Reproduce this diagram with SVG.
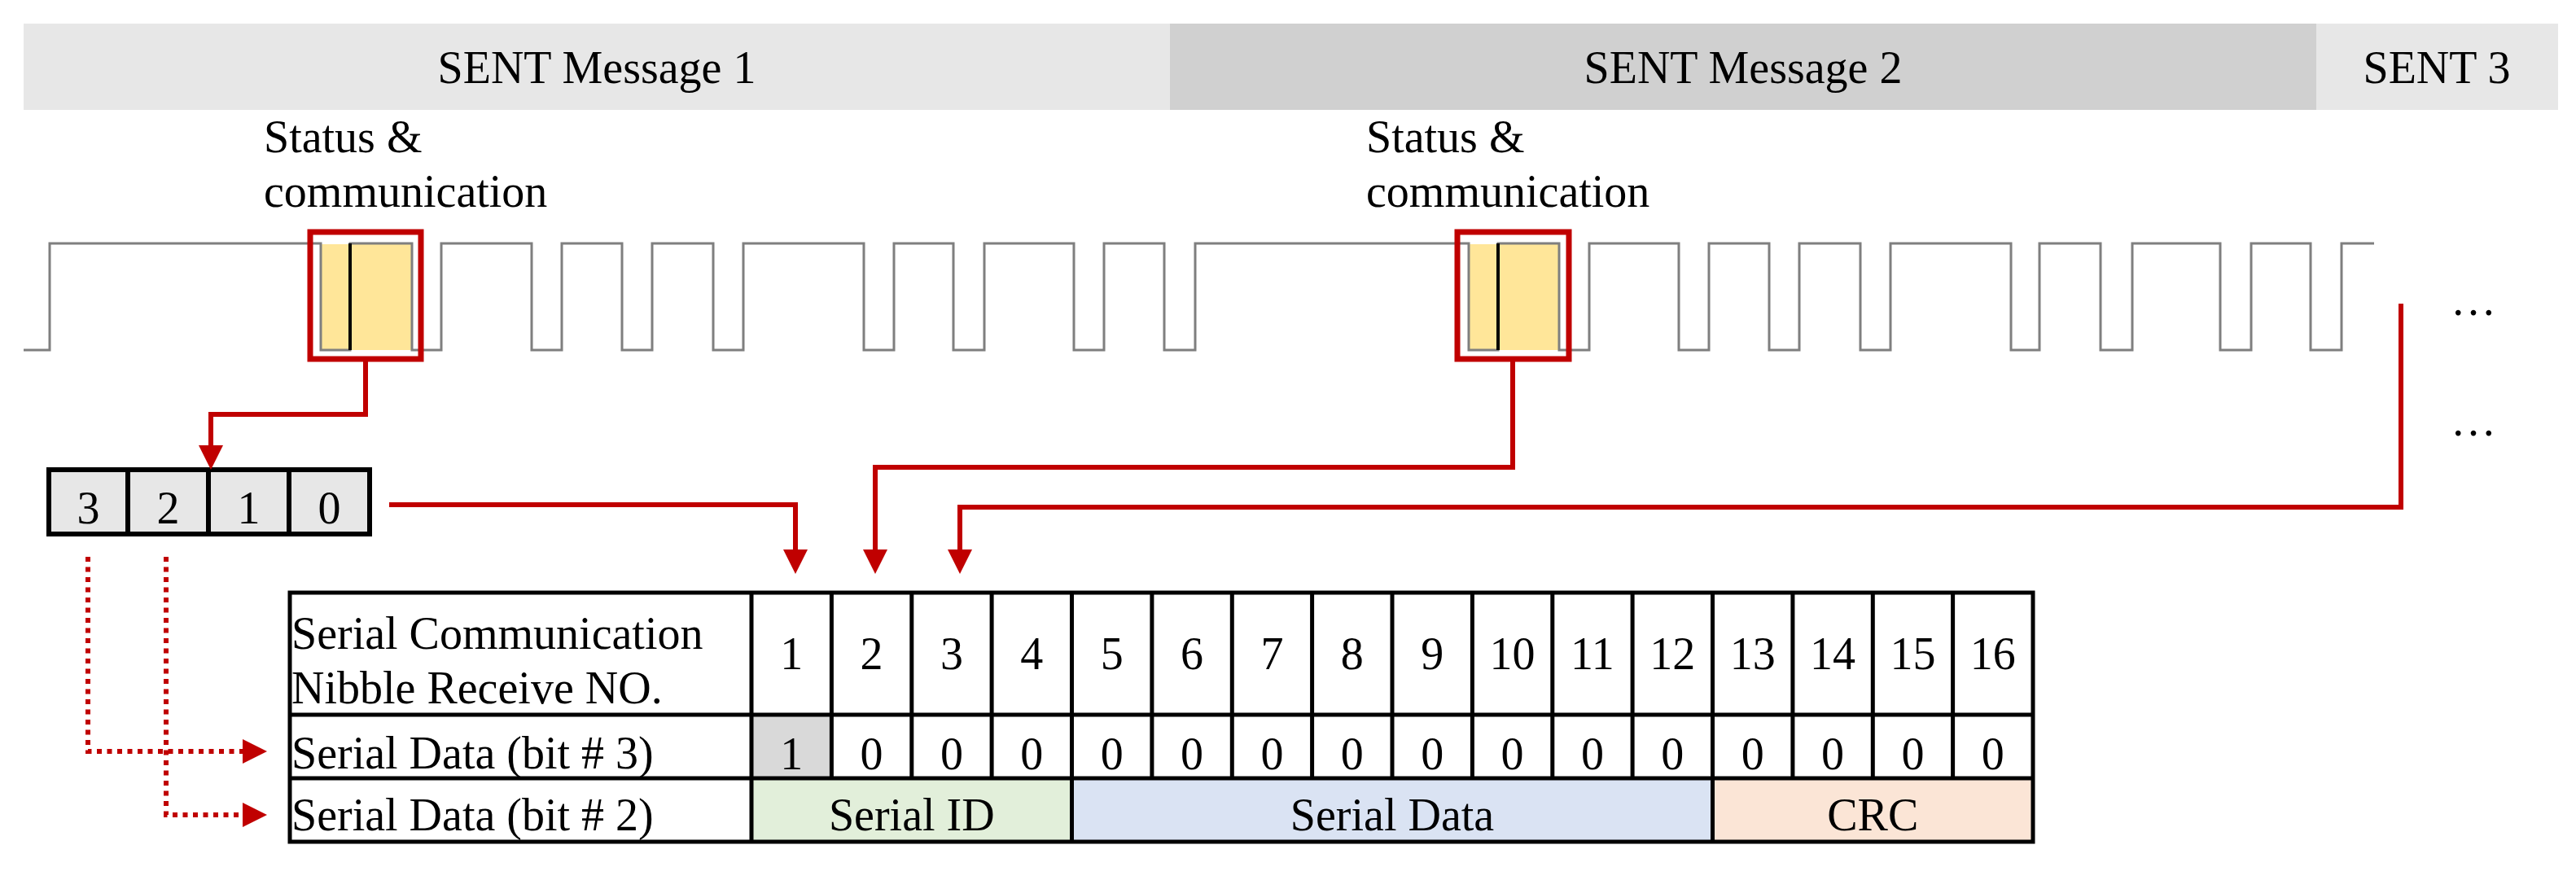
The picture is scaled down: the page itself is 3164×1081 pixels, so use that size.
<svg xmlns="http://www.w3.org/2000/svg" width="3164" height="1081" viewBox="0 0 3164 1081">
<defs>
<style>
.t{font-family:"Liberation Serif","Times New Roman",serif;font-size:56px;fill:#000}
.c{text-anchor:middle}
.wave{fill:none;stroke:#7f7f7f;stroke-width:3}
.rise{stroke:#000;stroke-width:4}
.hl{fill:#FFE699}
.rbox{fill:none;stroke:#C00000;stroke-width:7}
.conn{fill:none;stroke:#C00000;stroke-width:6}
.dot{fill:none;stroke:#C00000;stroke-width:6;stroke-dasharray:6 6.5}
.grid{stroke:#000;stroke-width:5;fill:none}
</style>
<marker id="ah" viewBox="0 0 10 10" markerWidth="5" markerHeight="5" refX="5" refY="5" orient="auto" markerUnits="strokeWidth">
<path d="M0,0 L10,5 L0,10 z" fill="#C00000"/>
</marker>
</defs>
<rect width="3164" height="1081" fill="#fff"/>

<g id="header">
<rect x="29" y="29" width="1408" height="106" fill="#E7E7E7"/>
<rect x="1437" y="29" width="1408" height="106" fill="#D0D0D0"/>
<rect x="2845" y="29" width="297" height="106" fill="#E7E7E7"/>
<text class="t c" x="733" y="102">SENT Message 1</text>
<text class="t c" x="2141" y="102">SENT Message 2</text>
<text class="t c" x="2993" y="102">SENT 3</text>
</g>

<g id="labels">
<text class="t" x="324" y="187">Status &amp;</text>
<text class="t" x="324" y="254">communication</text>
<text class="t" x="1678" y="187">Status &amp;</text>
<text class="t" x="1678" y="254">communication</text>
<text class="t" x="3010" y="387">…</text>
<text class="t" x="3010" y="535">…</text>
</g>

<g id="waveform">
<rect class="hl" x="394" y="300" width="112" height="130"/>
<rect class="hl" x="1804" y="300" width="111" height="130"/>
<path class="wave" d="M29,430 H61 V299 H394 V430 H430 V299 H506 V430 H542 V299 H653 V430 H690 V299 H764 V430 H801 V299 H876 V430 H913 V299 H1061 V430 H1098 V299 H1171 V430 H1209 V299 H1319 V430 H1356 V299 H1430 V430 H1468 V299 H1804 V430 H1840 V299 H1915 V430 H1952 V299 H2062 V430 H2099 V299 H2173 V430 H2210 V299 H2285 V430 H2322 V299 H2470 V430 H2505 V299 H2580 V430 H2619 V299 H2727 V430 H2765 V299 H2838 V430 H2876 V299 H2916"/>
<line class="rise" x1="430" y1="299" x2="430" y2="430"/>
<line class="rise" x1="1840" y1="299" x2="1840" y2="430"/>
</g>

<g id="status-box-1"><rect class="rbox" x="381" y="285" width="136" height="156"/></g>
<g id="status-box-2"><rect class="rbox" x="1790" y="285" width="137" height="156"/></g>

<g id="bit-box">
<rect x="60" y="577" width="394" height="79" fill="#E7E7E7" stroke="#000" stroke-width="6"/>
<line x1="157" y1="577" x2="157" y2="656" stroke="#000" stroke-width="6"/>
<line x1="256" y1="577" x2="256" y2="656" stroke="#000" stroke-width="6"/>
<line x1="355" y1="577" x2="355" y2="656" stroke="#000" stroke-width="6"/>
<text class="t c" x="108.5" y="643">3</text>
<text class="t c" x="206.5" y="643">2</text>
<text class="t c" x="305.5" y="643">1</text>
<text class="t c" x="404.5" y="643">0</text>
</g>

<g id="table">
<rect x="923" y="878" width="98.4" height="78" fill="#D9D9D9"/>
<rect x="923" y="956" width="393.5" height="78" fill="#E2EFDA"/>
<rect x="1316.5" y="956" width="787" height="78" fill="#DAE3F3"/>
<rect x="2103.5" y="956" width="393.5" height="78" fill="#FBE5D6"/>
<rect class="grid" x="356" y="728" width="2141" height="306"/>
<path class="grid" d="M356,878 H2497 M356,956 H2497 M923,728 V1034 M1021.4,728 V956 M1119.8,728 V956 M1218.1,728 V956 M1316.5,728 V1034 M1414.9,728 V956 M1513.3,728 V956 M1611.6,728 V956 M1710,728 V956 M1808.4,728 V956 M1906.8,728 V956 M2005.1,728 V956 M2103.5,728 V1034 M2201.9,728 V956 M2300.3,728 V956 M2398.6,728 V956"/>
<text class="t" x="358" y="797">Serial Communication</text>
<text class="t" x="358" y="864">Nibble Receive NO.</text>
<text class="t" x="358" y="944">Serial Data (bit # 3)</text>
<text class="t" x="358" y="1020">Serial Data (bit # 2)</text>
<g class="t c">
<text x="972.2" y="822">1</text><text x="1070.6" y="822">2</text><text x="1168.9" y="822">3</text><text x="1267.3" y="822">4</text>
<text x="1365.7" y="822">5</text><text x="1464.1" y="822">6</text><text x="1562.4" y="822">7</text><text x="1660.8" y="822">8</text>
<text x="1759.2" y="822">9</text><text x="1857.6" y="822">10</text><text x="1955.9" y="822">11</text><text x="2054.3" y="822">12</text>
<text x="2152.7" y="822">13</text><text x="2251.1" y="822">14</text><text x="2349.4" y="822">15</text><text x="2447.8" y="822">16</text>
<text x="972.2" y="945">1</text><text x="1070.6" y="945">0</text><text x="1168.9" y="945">0</text><text x="1267.3" y="945">0</text>
<text x="1365.7" y="945">0</text><text x="1464.1" y="945">0</text><text x="1562.4" y="945">0</text><text x="1660.8" y="945">0</text>
<text x="1759.2" y="945">0</text><text x="1857.6" y="945">0</text><text x="1955.9" y="945">0</text><text x="2054.3" y="945">0</text>
<text x="2152.7" y="945">0</text><text x="2251.1" y="945">0</text><text x="2349.4" y="945">0</text><text x="2447.8" y="945">0</text>
<text x="1119.8" y="1020">Serial ID</text>
<text x="1710" y="1020">Serial Data</text>
<text x="2300.3" y="1020">CRC</text>
</g>
</g>

<g id="connectors">
<path class="conn" d="M449,444 V509 H259 V562" marker-end="url(#ah)"/>
<path class="conn" d="M478,620 H977 V690" marker-end="url(#ah)"/>
<path class="conn" d="M1858,444 V574 H1075 V690" marker-end="url(#ah)"/>
<path class="conn" d="M2949,373 V623 H1179 V690" marker-end="url(#ah)"/>
<path class="dot" d="M108,684 V923 H313" marker-end="url(#ah)"/>
<path class="dot" d="M204,684 V1001 H313" marker-end="url(#ah)"/>
</g>
</svg>
